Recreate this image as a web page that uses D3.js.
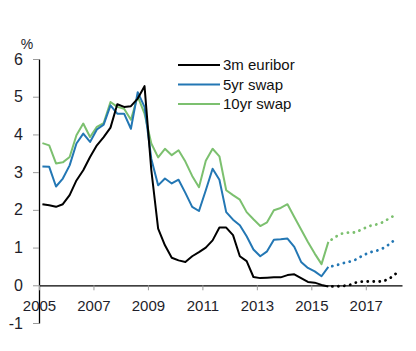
<!DOCTYPE html>
<html>
<head>
<meta charset="utf-8">
<script src="https://cdn.jsdelivr.net/npm/d3@7"></script>
<style>
  body { margin: 0; background: #fff; }
  text { font-family: "Liberation Sans", Arial, sans-serif; }
</style>
</head>
<body>
<svg id="chart" width="416" height="351"></svg>
<script>

// DATA (quarterly averages, forward curves after 2015Q3)
let startYear = 2005
let euribor3m = [2.15, 2.12, 2.08, 2.15, 2.39, 2.78, 3.05, 3.40, 3.71, 3.93, 4.18, 4.80,
                 4.73, 4.75, 4.95, 5.28, 3.05, 1.50, 1.06, 0.73, 0.66, 0.62, 0.77, 0.88,
                 1.00, 1.19, 1.53, 1.53, 1.33, 0.77, 0.64, 0.22, 0.19, 0.20, 0.21, 0.21,
                 0.27, 0.29, 0.19, 0.09, 0.07, 0.01, -0.03]
let swap5y = [3.15, 3.14, 2.62, 2.83, 3.18, 3.76, 4.02, 3.80, 4.13, 4.26, 4.77, 4.55,
              4.55, 4.15, 5.12, 4.73, 3.35, 2.65, 2.83, 2.70, 2.80, 2.45, 2.08, 1.97,
              2.52, 3.09, 2.80, 1.94, 1.74, 1.59, 1.30, 0.95, 0.77, 0.90, 1.21, 1.22,
              1.24, 1.02, 0.62, 0.46, 0.37, 0.24, 0.49]
let swap10y = [3.77, 3.71, 3.23, 3.26, 3.40, 3.98, 4.29, 3.93, 4.20, 4.30, 4.86, 4.73,
               4.68, 4.39, 5.01, 4.55, 3.76, 3.39, 3.62, 3.45, 3.58, 3.28, 2.90, 2.60,
               3.30, 3.62, 3.42, 2.52, 2.39, 2.27, 1.94, 1.75, 1.57, 1.67, 1.99, 2.05,
               2.15, 1.81, 1.48, 1.15, 0.84, 0.56, 1.15]

// forward curves start at 2015Q3 (index 42)
let fwdStart = 42
let euribor3mFwd = [-0.03, -0.03, -0.02, 0.00, 0.07, 0.10, 0.10, 0.10, 0.10, 0.18, 0.32]
let swap5yFwd = [0.49, 0.52, 0.58, 0.62, 0.68, 0.78, 0.87, 0.91, 0.98, 1.09, 1.25]
let swap10yFwd = [1.15, 1.28, 1.37, 1.40, 1.40, 1.49, 1.57, 1.61, 1.67, 1.78, 1.88]

let seriesNames = ["3m euribor", "5yr swap", "10yr swap"]
let seriesColors = ["#000000", "#2377b4", "#7cc06f"]

let xTicks = [2005, 2007, 2009, 2011, 2013, 2015, 2017]
let yTicks = [-1, 0, 1, 2, 3, 4, 5, 6]

// quarter index -> decimal year at mid quarter
function quarterTime(i) {
    return startYear + (i + 0.5) / 4
}

let svg = d3.select("#chart")

let x = d3.scaleLinear().domain([2005, 2018.33]).range([39, 402])
let y = d3.scaleLinear().domain([-1, 6]).range([323, 59])

// Y AXIS
let yAxis = svg
    .append("g")
    .attr("transform", `translate(${x(2005)},0)`)
    .call(d3.axisLeft(y).tickValues(yTicks).tickFormat(d => String(d)).tickSize(6).tickPadding(10).tickSizeOuter(0))

yAxis.select(".domain").attr("stroke", "#000").attr("stroke-width", 1.3)
yAxis.selectAll(".tick line").attr("stroke", "#9a9a9a")
yAxis.selectAll(".tick text")
    .attr("font-size", 16)
    .attr("fill", "#1e1e2a")

// X AXIS (on zero line)
let xAxis = svg
    .append("g")
    .attr("transform", `translate(0,${y(0)})`)
    .call(d3.axisBottom(x).tickValues(xTicks).tickFormat(d => String(d)).tickSize(5).tickPadding(10).tickSizeOuter(0))

xAxis.select(".domain").attr("stroke", "#000").attr("stroke-width", 1.3)
xAxis.selectAll(".tick line").attr("stroke", "#9a9a9a")
xAxis.selectAll(".tick text")
    .attr("font-size", 15)
    .attr("fill", "#1e1e2a")

// UNIT LABEL
svg.append("text")
    .attr("x", 27)
    .attr("y", 49)
    .attr("text-anchor", "middle")
    .attr("font-size", 14)
    .attr("fill", "#1e1e2a")
    .text("%")

// LINES
let line = d3.line()
    .x(d => x(d.t))
    .y(d => y(d.v))

let history = [euribor3m, swap5y, swap10y]
let forwards = [euribor3mFwd, swap5yFwd, swap10yFwd]

// draw green first so black stays on top
let order = [2, 1, 0]

order.forEach(function(s) {
    let pts = history[s].map((v, i) => ({t: quarterTime(i), v: v}))
    svg.append("path")
        .datum(pts)
        .attr("d", line)
        .attr("fill", "none")
        .attr("stroke", seriesColors[s])
        .attr("stroke-width", 2)
        .attr("stroke-linejoin", "round")

    let fpts = forwards[s].map((v, i) => ({t: quarterTime(fwdStart + i), v: v}))
    svg.append("path")
        .datum(fpts)
        .attr("d", line)
        .attr("fill", "none")
        .attr("stroke", seriesColors[s])
        .attr("stroke-width", 2.8)
        .attr("stroke-linecap", "round")
        .attr("stroke-dasharray", "0.1 5.9")
        .attr("stroke-dashoffset", -4)
})

// LEGEND
let legend = svg.append("g")

seriesNames.forEach(function(name, i) {
    let ly = 65 + i * 19.5
    legend.append("line")
        .attr("x1", 178)
        .attr("x2", 220)
        .attr("y1", ly)
        .attr("y2", ly)
        .attr("stroke", seriesColors[i])
        .attr("stroke-width", 2)
    legend.append("text")
        .attr("x", 223)
        .attr("y", ly)
        .attr("dy", "0.35em")
        .attr("font-size", 15)
        .attr("fill", "#111")
        .text(name)
})

</script>
</body>
</html>
